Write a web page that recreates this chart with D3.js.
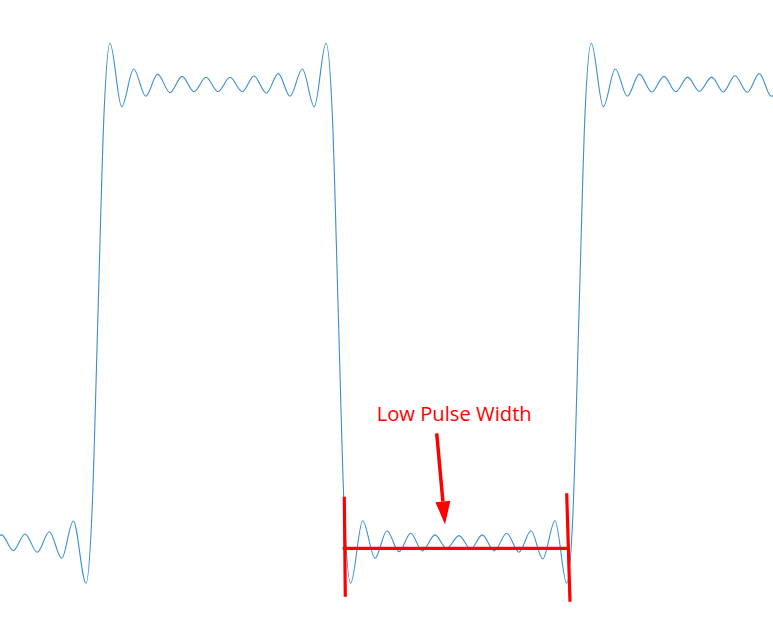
<!DOCTYPE html>
<html>
<head>
<meta charset="utf-8">
<script src="https://cdn.jsdelivr.net/npm/d3@7"></script>
<style>
  html, body { margin: 0; padding: 0; background: #ffffff; }
  svg { display: block; }
</style>
</head>
<body>
<div id="chart"></div>
<script>
// ---- Data (time in samples, amplitude normalised: low = -1, high = +1) ----
const sampleTime = [
  -10.4, 1.6, 13.3, 25, 37.3, 49.3, 61.7, 73.3, 86,
  92, 98, 104,
  110, 121.7, 133.7, 145.7, 157.7, 170, 182, 194, 206, 218, 230, 242.3, 254, 266.3, 278.3, 290, 302.3, 314.3, 326,
  332.3, 338.3, 344.3,
  350.7, 362.7, 375, 387, 399, 410.7, 422.3, 435, 446.7, 459, 470.7, 482.3, 494.3, 506.7, 519, 531, 542.7, 555, 566.7,
  573, 579, 585,
  591.3, 603.3, 615.3, 627.3, 639.3, 651.7, 664, 675.7, 687.7, 699.3, 711.7, 723.3, 735, 747.3, 759.3, 771.3, 783
];
const amplitude = [
  -1.031, -0.969, -1.038, -0.965, -1.045, -0.955, -1.071, -0.908, -1.180,
  -0.870, 0.000, 0.870,
  1.180, 0.903, 1.067, 0.948, 1.045, 0.964, 1.035, 0.968, 1.031, 0.969, 1.031, 0.968, 1.037, 0.962, 1.047, 0.948, 1.067, 0.903, 1.180,
  0.870, 0.000, -0.870,
  -1.180, -0.907, -1.071, -0.951, -1.042, -0.962, -1.039, -0.969, -1.028, -0.972, -1.031, -0.969, -1.039, -0.962, -1.045, -0.951, -1.074, -0.907, -1.180,
  -0.870, 0.000, 0.870,
  1.180, 0.903, 1.067, 0.948, 1.045, 0.967, 1.035, 0.968, 1.032, 0.970, 1.032, 0.967, 1.038, 0.966, 1.047, 0.948, 1.067
];

// Annotation (in data units)
const annotationLabel = "Low Pulse Width";
const pulseStart = [[344.3, -0.802], [345.3, -1.239]];
const pulseEnd   = [[566.7, -0.787], [570.0, -1.261]];
const pulseSpan  = [[342.7, -1.028], [569.0, -1.028]];
const arrowFrom  = [436.7, -0.525];
const arrowTip   = [445.0, -0.923];
const labelPos   = [454.2, -0.472];

// ---- Layout ----
const W = 773, H = 625;
const svg = d3.select("#chart").append("svg")
  .attr("width", W).attr("height", H)
  .style("background", "#ffffff");

const x = d3.scaleLinear().domain([0, 773]).range([0, W]);
const y = d3.scaleLinear().domain([-1, 1]).range([542, 84.4]);

const points = sampleTime.map((t, i) => [t, amplitude[i]]);

svg.append("defs").append("clipPath").attr("id", "clip")
  .append("rect").attr("x", 0).attr("y", 0).attr("width", W).attr("height", H);

svg.append("path")
  .datum(points)
  .attr("clip-path", "url(#clip)")
  .attr("fill", "none")
  .attr("stroke", "#3a8fd0")
  .attr("stroke-width", 1.1)
  .attr("d", d3.line().x(d => x(d[0])).y(d => y(d[1])).curve(d3.curveMonotoneX));

// ---- Annotation ----
const red = "#ff0000";
const seg = d3.line().x(d => x(d[0])).y(d => y(d[1]));
[pulseStart, pulseEnd, pulseSpan].forEach(s => {
  svg.append("path").attr("d", seg(s))
    .attr("stroke", red).attr("stroke-width", 3.2).attr("fill", "none");
});

// arrow
const ax0 = x(arrowFrom[0]), ay0 = y(arrowFrom[1]);
const ax1 = x(arrowTip[0]), ay1 = y(arrowTip[1]);
const ang = Math.atan2(ay1 - ay0, ax1 - ax0);
const headLen = 23, headHalf = 7.5;
const bx = ax1 - headLen * Math.cos(ang), by = ay1 - headLen * Math.sin(ang);
svg.append("line")
  .attr("x1", ax0).attr("y1", ay0).attr("x2", bx).attr("y2", by)
  .attr("stroke", red).attr("stroke-width", 3.5);
const px = -Math.sin(ang), py = Math.cos(ang);
svg.append("path")
  .attr("d", `M${ax1},${ay1}L${bx + px * headHalf},${by + py * headHalf}L${bx - px * headHalf},${by - py * headHalf}Z`)
  .attr("fill", red);

svg.append("text")
  .attr("x", x(labelPos[0])).attr("y", y(labelPos[1]))
  .attr("text-anchor", "middle")
  .attr("fill", red)
  .style("font-family", "'Open Sans', 'Noto Sans', sans-serif")
  .style("font-size", "20.2px")
  .text(annotationLabel);
</script>
</body>
</html>
